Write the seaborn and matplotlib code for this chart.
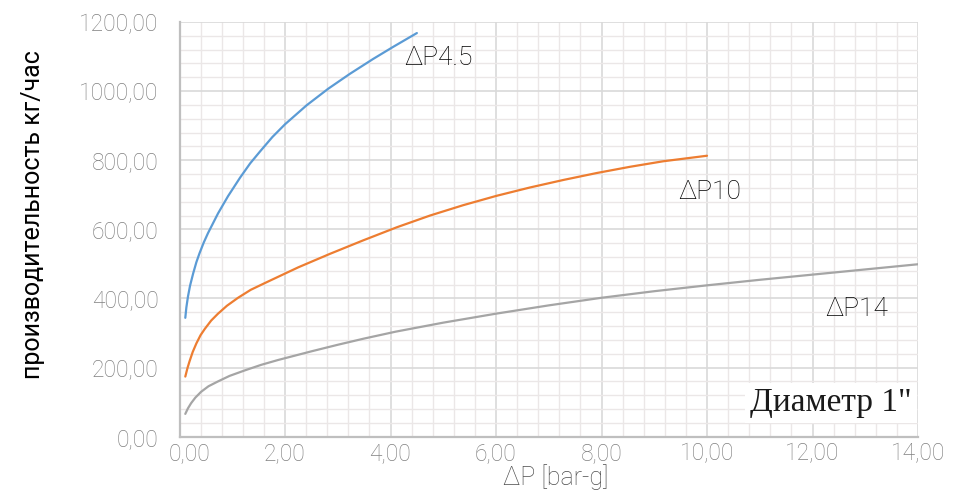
import numpy as np
import pandas as pd
import matplotlib
matplotlib.use("Agg")
import matplotlib.pyplot as plt
import matplotlib.transforms as mtransforms
from matplotlib.ticker import MultipleLocator, FuncFormatter
import seaborn as sns

# ---- data ----
x_45 = [0.11, 0.13, 0.16, 0.20, 0.26, 0.32, 0.38, 0.46, 0.54, 0.73, 0.92, 1.15, 1.34, 1.53,
        1.76, 2.00, 2.41, 2.82, 3.23, 3.67, 4.05, 4.50]
y_45 = [344, 374, 405, 437, 473, 505, 531, 562, 589, 646, 696, 750, 791, 826,
        867, 904, 959, 1007, 1050, 1093, 1128, 1168]

x_10 = [0.11, 0.15, 0.19, 0.25, 0.32, 0.40, 0.48, 0.60, 0.73, 0.90, 1.11, 1.35, 1.61, 2.25,
        2.85, 3.48, 4.12, 4.75, 5.38, 6.01, 6.64, 7.28, 7.91, 8.54, 9.17, 10.0]
y_10 = [174, 198, 218, 245, 270, 294, 312, 336, 356, 379, 402, 425, 444, 490,
        529, 568, 606, 640, 670, 697, 721, 743, 763, 781, 797, 813]

x_14 = [0.11, 0.16, 0.22, 0.30, 0.41, 0.55, 0.73, 0.95, 1.24, 1.55, 1.87, 2.5, 3.0, 3.5,
        4.1, 5.0, 6.0, 7.0, 8.0, 9.0, 10.0, 11.0, 12.0, 13.0, 14.0]
y_14 = [66, 82, 97, 113, 130, 146, 160, 176, 192, 208, 222, 247, 266, 284,
        304, 330, 356, 380, 402, 421, 438, 454, 469, 484, 499]

series_names = ["ΔP4.5", "ΔP10", "ΔP14"]
series_colors = ["#5B9BD5", "#ED7D31", "#A5A5A5"]
label_x = [4.27, 9.45, 12.25]
label_y = [1096, 708, 370]

x_label = "ΔP [bar-g]"
y_label = "производительность кг/час"
note_text = "Диаметр 1\""

df = pd.concat([
    pd.DataFrame({"dp": x_45, "q": y_45, "s": series_names[0]}),
    pd.DataFrame({"dp": x_10, "q": y_10, "s": series_names[1]}),
    pd.DataFrame({"dp": x_14, "q": y_14, "s": series_names[2]}),
], ignore_index=True)

sns.set_theme(style="white")
plt.rcParams["font.family"] = ["Roboto", "DejaVu Sans"]

fig = plt.figure(figsize=(9.6, 4.96), dpi=100)
ax = fig.add_axes([179.5 / 960, 1 - 436.7 / 496, 738.5 / 960, 414.7 / 496])

sns.lineplot(data=df, x="dp", y="q", hue="s", palette=dict(zip(series_names, series_colors)),
             hue_order=series_names, linewidth=1.6, legend=False, ax=ax, sort=True)
for ln in ax.lines:
    ln.set_solid_joinstyle("round")

ax.set_xlim(0, 14)
ax.set_ylim(0, 1200)
ax.xaxis.set_major_locator(MultipleLocator(2))
ax.xaxis.set_minor_locator(MultipleLocator(0.4))
ax.yaxis.set_major_locator(MultipleLocator(200))
ax.yaxis.set_minor_locator(MultipleLocator(40))
fmt = FuncFormatter(lambda v, p: f"{v:.2f}".replace(".", ","))
ax.xaxis.set_major_formatter(fmt)
ax.yaxis.set_major_formatter(fmt)

ax.grid(True, which="major", color="#d9d9d9", linewidth=1.2)
ax.grid(True, which="minor", color="#ebe7e7", linewidth=1.0)
ax.set_axisbelow(True)

for s in ["top", "right"]:
    ax.spines[s].set_visible(False)
for s in ["left", "bottom"]:
    ax.spines[s].set_color("#bfbfbf")
    ax.spines[s].set_linewidth(1.6)

ax.tick_params(axis="both", which="both", length=0, labelsize=16.5, labelcolor="#808080")
ax.tick_params(axis="x", pad=4)
ax.tick_params(axis="y", pad=15)

ax.set_xlabel(x_label, fontsize=18, color="#4d4d4d", fontweight="light", va="center")
ax.xaxis.set_label_coords(0.51, -0.097)
ax.set_ylabel(y_label, fontsize=18, color="#000000", va="center")
ax.yaxis.set_label_coords(-0.198, 0.535)

for name, lx, ly in zip(series_names, label_x, label_y):
    ax.text(lx, ly, name, fontsize=19, color="#000000", fontweight="light", ha="left", va="center")

ax.text(12.35, 97, note_text, fontsize=24, color="#1a1a1a", ha="center", va="center",
        family=["Liberation Serif", "DejaVu Serif"],
        bbox=dict(boxstyle="square,pad=0.15", facecolor="white", edgecolor="none"))

# tick label styling; shift the "0,00" x label to the right like the reference
fig.canvas.draw()
for t in ax.get_xticklabels() + ax.get_yticklabels():
    t.set_fontweight("light")
for tick in ax.xaxis.get_major_ticks():
    if abs(tick.get_loc()) < 1e-9:
        tick.label1.set_transform(tick.label1.get_transform()
                                  + mtransforms.ScaledTranslation(10 / 100, 0, fig.dpi_scale_trans))

fig.savefig("out.png", dpi=100)
